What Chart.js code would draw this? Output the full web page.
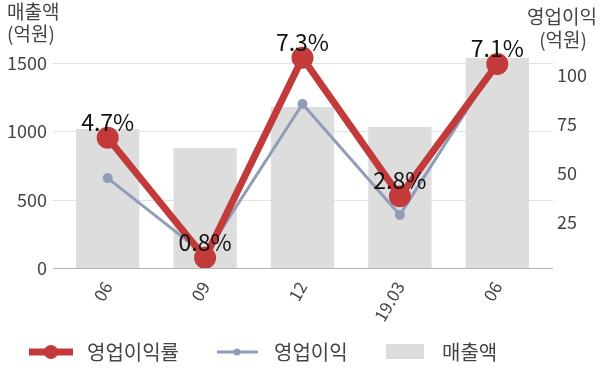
<!DOCTYPE html>
<html>
<head>
<meta charset="utf-8">
<script src="https://cdn.jsdelivr.net/npm/chart.js@4.4.0/dist/chart.umd.min.js"></script>
<style>
  body { margin: 0; background: #fff; }
  #wrap { position: relative; width: 600px; height: 383px; }
  #legend { position: absolute; left: 0; top: 336px; width: 600px; height: 32px;
    font-family: "Noto Sans CJK KR", sans-serif; font-size: 20px; color: #444; }
  #legend span { position: absolute; top: 0; line-height: 32px; }
</style>
</head>
<body>
<div id="wrap">
  <canvas id="chart" width="600" height="383"></canvas>
  <div id="legend">
    <svg style="position:absolute;left:0;top:0" width="600" height="32">
      <line x1="29" y1="16" x2="73" y2="16" stroke="#c23a3a" stroke-width="7"/>
      <circle cx="51" cy="16" r="7" fill="#c23a3a"/>
      <line x1="217" y1="16" x2="258" y2="16" stroke="#919cb8" stroke-width="3"/>
      <circle cx="237" cy="16" r="3.5" fill="#919cb8"/>
      <rect x="386" y="8" width="38" height="15" fill="#dddddd"/>
    </svg>
    <span style="left:87px">영업이익률</span>
    <span style="left:274px">영업이익</span>
    <span style="left:442px">매출액</span>
  </div>
</div>
<script>
"use strict";

const labels = ["06", "09", "12", "19.03", "06"];
const sales = [1017, 878, 1178, 1032, 1537];
const profit = [47.4, 8.2, 85.2, 28.6, 106.6];
const margin = [4.7, 0.8, 7.3, 2.8, 7.1];
const marginLabels = ["4.7%", "0.8%", "7.3%", "2.8%", "7.1%"];
const salesTicks = [0, 500, 1000, 1500];
const profitTicks = [25, 50, 75, 100];

const font = "'Noto Sans CJK KR', sans-serif";

const extras = {
  id: "extras",
  beforeDatasetsDraw(chart) {
    const ctx = chart.ctx;
    const y = chart.scales.y;
    ctx.save();
    ctx.lineWidth = 1;
    salesTicks.forEach(function (v) {
      const py = Math.round(y.getPixelForValue(v)) + 0.5;
      ctx.strokeStyle = v === 0 ? "#b5b5b5" : "#e2e2e2";
      ctx.beginPath();
      ctx.moveTo(53, py);
      ctx.lineTo(553, py);
      ctx.stroke();
    });
    ctx.restore();
  },
  afterDatasetsDraw(chart) {
    const ctx = chart.ctx;
    const meta = chart.getDatasetMeta(0);
    ctx.save();
    ctx.font = "23px " + font;
    ctx.fillStyle = "#111";
    ctx.textAlign = "center";
    ctx.textBaseline = "middle";
    meta.data.forEach(function (p, i) {
      ctx.fillText(marginLabels[i], p.x, p.y - 16);
    });
    ctx.font = "19px " + font;
    ctx.fillStyle = "#444";
    ctx.textAlign = "left";
    ctx.fillText("매출액", 7, 12);
    ctx.fillText("(억원)", 7, 34);
    ctx.textAlign = "right";
    ctx.fillText("영업이익", 597, 17);
    ctx.fillText("(억원)", 587, 40);
    ctx.restore();
  }
};

const plain = function (v) { return String(v); };

new Chart(document.getElementById("chart"), {
  data: {
    labels: labels,
    datasets: [
      {
        type: "line",
        label: "영업이익률",
        data: margin,
        yAxisID: "y2",
        borderColor: "#c23a3a",
        backgroundColor: "#c23a3a",
        borderWidth: 7,
        pointRadius: 7.5,
        pointHoverRadius: 7.5,
        order: 1
      },
      {
        type: "line",
        label: "영업이익",
        data: profit,
        yAxisID: "y1",
        borderColor: "#919cb8",
        backgroundColor: "#919cb8",
        borderWidth: 3,
        pointRadius: 3.5,
        order: 2
      },
      {
        type: "bar",
        label: "매출액",
        data: sales,
        yAxisID: "y",
        backgroundColor: "#dddddd",
        categoryPercentage: 0.65,
        barPercentage: 1,
        order: 3
      }
    ]
  },
  options: {
    responsive: false,
    animation: false,
    layout: { padding: { top: 40, bottom: 45, left: 0, right: 0 } },
    plugins: { legend: { display: false }, tooltip: { enabled: false } },
    scales: {
      x: {
        grid: { display: false },
        border: { display: false },
        ticks: {
          font: { family: font, size: 17 },
          color: "#444",
          minRotation: 60,
          maxRotation: 60,
          padding: 2
        },
        afterFit: function (s) { s.height = 70; }
      },
      y: {
        position: "left",
        min: 0,
        max: 1669,
        grid: { display: false, drawTicks: false },
        border: { display: false },
        ticks: { autoSkip: false, callback: plain, font: { family: font, size: 18 }, color: "#444", padding: 12 },
        afterBuildTicks: function (s) { s.ticks = salesTicks.map(function (v) { return { value: v }; }); },
        afterFit: function (s) { s.width = 59; }
      },
      y1: {
        position: "right",
        min: 1.5,
        max: 117.9,
        grid: { display: false, drawTicks: false },
        border: { display: false },
        ticks: { autoSkip: false, callback: plain, font: { family: font, size: 18 }, color: "#444", padding: 11 },
        afterBuildTicks: function (s) { s.ticks = profitTicks.map(function (v) { return { value: v }; }); },
        afterFit: function (s) { s.width = 54; }
      },
      y2: {
        display: false,
        min: 0.47,
        max: 7.88
      }
    }
  },
  plugins: [extras]
});
</script>
</body>
</html>
